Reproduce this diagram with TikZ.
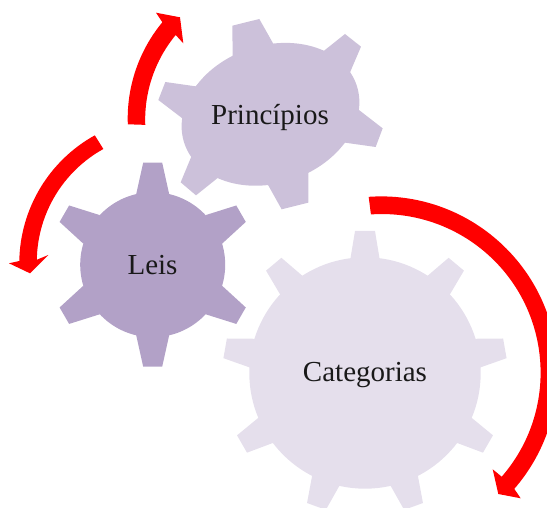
\documentclass[tikz,border=0pt]{standalone}
\usepackage{fontspec}
\setmainfont{Liberation Serif}
\definecolor{leiscol}{HTML}{B2A1C7}
\definecolor{princol}{HTML}{CCC1DA}
\definecolor{catcol}{HTML}{E5DFEC}
\tikzset{
  gearlabel/.style={anchor=base,text=black!90,inner sep=0pt,font=\fontsize{29}{30}\selectfont},
  blockarrow/.style={fill=red,draw=none}
}
% centre x, centre y, body radius, tip radius, spacing, base half width, tip half width, colour
\newcommand{\roundgear}[8]{%
  \fill[#8] (#1,#2) circle[radius=#3pt];
  \pgfmathtruncatemacro{\teethn}{360/#5}%
  \foreach \k in {1,...,\teethn}{%
    \pgfmathsetmacro{\th}{-90+\k*#5}%
    \pgfmathsetmacro{\rin}{#3-2}%
    \begin{scope}[shift={(#1,#2)},rotate=\th]
      \fill[#8] (\rin,-#6) -- (#4,-#7) -- (#4,#7) -- (\rin,#6) -- cycle;
    \end{scope}
  }%
}
\begin{document}
\begin{tikzpicture}[x=1pt,y=1pt,yscale=-1]
\useasboundingbox (0,0) rectangle (547,508);
\clip (0,0) rectangle (547,508);
% Categorias gear
\roundgear{365}{373}{115.7}{142}{40}{14.7}{10}{catcol}
% Principios gear (slightly skewed)
\begin{scope}[shift={(150,10)},scale=0.33333]
  \fill[princol] (248,140) -- (247,47) -- (328,27) -- (372,105) -- (516,127) -- (585,72) -- (633,110) -- (598,192)
    -- (627,300) -- (698,355) -- (677,411) -- (585,398) -- (475,487) -- (475,578) -- (395,598) -- (352,521)
    -- (208,500) -- (138,556) -- (92,517) -- (126,435) -- (97,325) -- (25,270) -- (46,216) -- (137,229) -- cycle;
\end{scope}
\begin{scope}[shift={(270.5,114.3)},rotate=-18.8]
  \fill[princol] (0,0) ellipse[x radius=90.9pt,y radius=68.8pt];
\end{scope}
% Leis gear
\roundgear{152.7}{264.7}{72.5}{102}{60}{16.5}{9.5}{leiscol}
% Arrows
\fill[blockarrow] (278.7,118.5) ++(177.8:151pt) arc[start angle=177.8,end angle=219.6,radius=151pt]
  -- (156,12.7) -- (180,17.3) -- (183.3,43.3) -- (175.7,35)
  arc[start angle=219.6,end angle=177.8,radius=133pt] -- cycle;
\fill[blockarrow] (166,262) ++(241:129.2pt) arc[start angle=241,end angle=181,radius=129.2pt]
  -- (48.3,255) -- (30,273.3) -- (9,263.3) -- (19.3,261)
  arc[start angle=181,end angle=241,radius=146.6pt] -- cycle;
\fill[blockarrow] (381,373) ++(-94:176.6pt) arc[start angle=-94,end angle=41,radius=176.6pt]
  -- (520.7,498.3) -- (498.3,494) -- (492.7,469.3) -- (501.7,476.7)
  arc[start angle=41,end angle=-94,radius=158.6pt] -- cycle;
% Labels
\node[gearlabel] (princ) at (270,124.3) {Princípios};
\node[gearlabel] (leis) at (152.5,275) {Leis};
\node[gearlabel] (cat) at (365,381.7) {Categorias};
\end{tikzpicture}
\end{document}
